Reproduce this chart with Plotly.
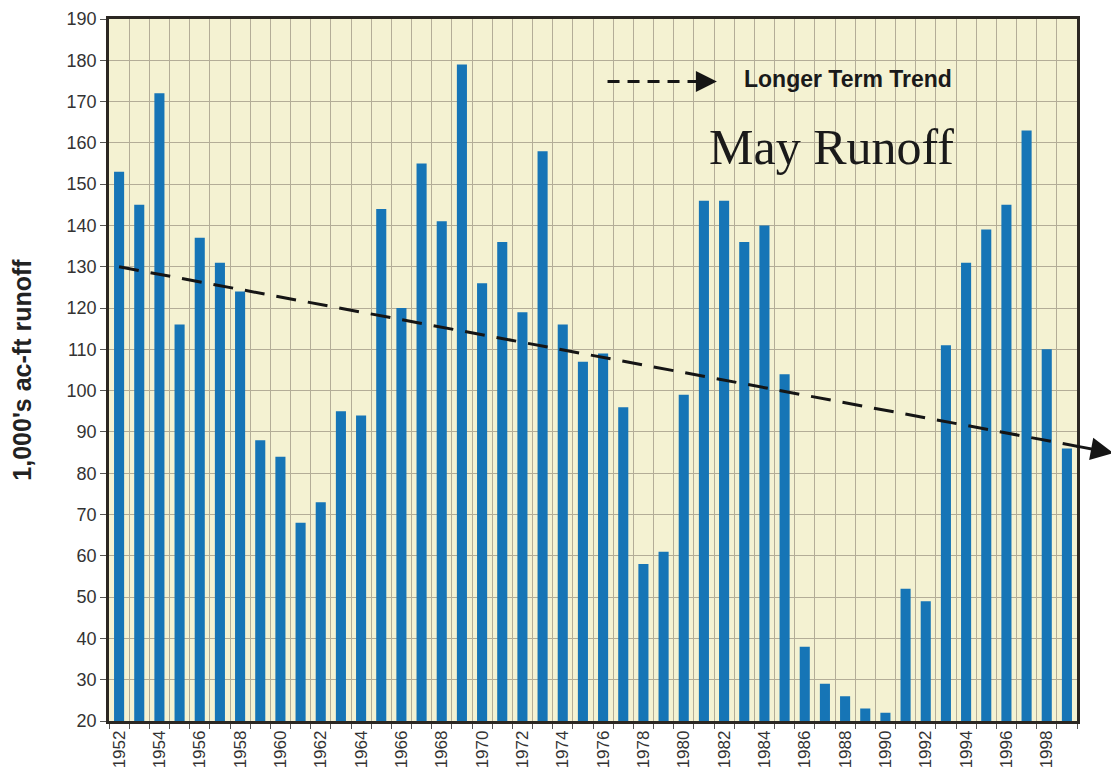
import plotly.graph_objects as go

years = list(range(1952, 2000))
runoff = [153, 145, 172, 116, 137, 131, 124, 88, 84, 68,
          73, 95, 94, 144, 120, 155, 141, 179, 126, 136,
          119, 158, 116, 107, 109, 96, 58, 61, 99, 146,
          146, 136, 140, 104, 38, 29, 26, 23, 22, 52,
          49, 111, 131, 139, 145, 163, 110, 86]
tick_years = years
tick_labels = [str(y) if (y - 1952) % 2 == 0 else "" for y in years]
trend_x = [1952, 2001.3]
trend_y = [130, 84.9]
y_ticks = list(range(20, 191, 10))

fig = go.Figure()
fig.add_trace(go.Bar(x=years, y=runoff, width=0.5,
                     marker=dict(color="#1675b6", line=dict(width=0)),
                     showlegend=False))
fig.add_trace(go.Scatter(x=trend_x, y=trend_y, mode="lines",
                         line=dict(color="#151515", width=3, dash="20px,12px"),
                         showlegend=False))

# arrow continuation of the trend outside the plot
slope = (trend_y[1] - trend_y[0]) / (trend_x[1] - trend_x[0])
tail_x = 1999.4
tail_y = trend_y[0] + slope * (tail_x - trend_x[0])
fig.add_annotation(x=trend_x[1], y=trend_y[1], xref="x", yref="y",
                   ax=tail_x, ay=tail_y, axref="x", ayref="y",
                   text="", showarrow=True, arrowhead=2, arrowsize=1.5,
                   arrowwidth=3, arrowcolor="#151515")

# legend-like key
fig.add_shape(type="line", xref="paper", yref="paper",
              x0=0.515, x1=0.610, y0=0.911, y1=0.911,
              line=dict(color="#151515", width=3, dash="12px,8px"))
fig.add_annotation(x=0.628, y=0.911, xref="paper", yref="paper",
                   ax=-18, ay=0,
                   text="", showarrow=True, arrowhead=2, arrowsize=1.4,
                   arrowwidth=3, arrowcolor="#151515")
fig.add_annotation(x=0.654, y=0.914, xref="paper", yref="paper",
                   text="<b>Longer Term Trend</b>", showarrow=False,
                   xanchor="left", yanchor="middle",
                   font=dict(family="Liberation Sans, Arial", size=23, color="#1a1a1a"))
fig.add_annotation(x=0.618, y=0.818, xref="paper", yref="paper",
                   text="May Runoff", showarrow=False,
                   xanchor="left", yanchor="middle",
                   font=dict(family="Liberation Serif, Times New Roman", size=50, color="#1a1a1a"))

fig.update_layout(
    width=1119, height=783,
    margin=dict(l=101, r=50, t=11, b=70, autoexpand=False),
    paper_bgcolor="white",
    plot_bgcolor="#f4f2d2",
    bargap=0.5,
    font=dict(family="Liberation Sans, Arial", color="#333333"),
)
fig.update_xaxes(
    range=[1951.5, 1999.5], automargin=False,
    tickmode="array", tickvals=tick_years, ticktext=tick_labels,
    tickangle=-90, tickfont=dict(size=17, color="#333333"),
    ticks="", showgrid=False, zeroline=False, ticklabeloverflow="allow",
    showline=True, linecolor="#2b2722", linewidth=2.5, mirror=True,
    minor=dict(tick0=1951.5, dtick=1, ticks="outside", ticklen=5,
               tickcolor="#555555", showgrid=True,
               gridcolor="#b3ad97", gridwidth=1),
)
fig.update_yaxes(
    range=[20, 190], tickmode="array", tickvals=y_ticks, automargin=False,
    ticks="outside", ticklen=6, tickcolor="#555555",
    tickfont=dict(size=18, color="#333333"), ticklabeloverflow="allow",
    showgrid=True, gridcolor="#b3ad97", gridwidth=1, zeroline=False,
    showline=True, linecolor="#2b2722", linewidth=2.5, mirror=True,
    title=dict(text="<b>1,000's ac-ft runoff</b>", standoff=33,
               font=dict(size=25, color="#222222")),
)

fig.write_html("out.html")
